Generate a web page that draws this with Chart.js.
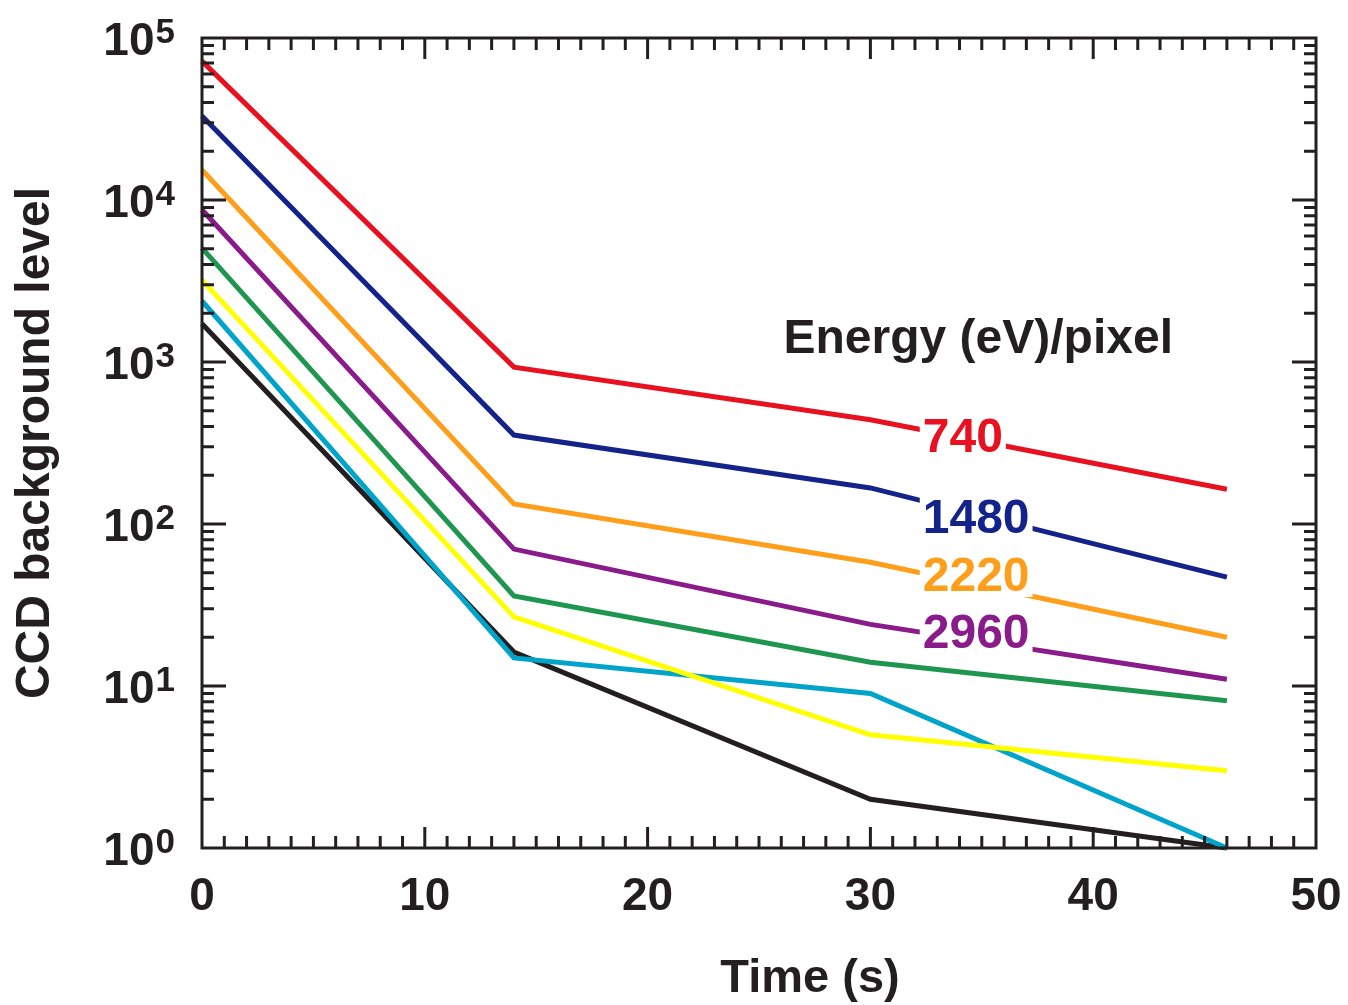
<!DOCTYPE html>
<html>
<head>
<meta charset="utf-8">
<title>CCD background level</title>
<script src="https://cdn.jsdelivr.net/npm/chart.js@4.4.1/dist/chart.umd.min.js"></script>
<style>
  html, body { margin: 0; padding: 0; background: #fff; }
  canvas { display: block; }
</style>
</head>
<body>
<canvas id="ccd-chart" width="1348" height="1005"></canvas>
<script>
// data
const times = [0, 14, 30, 46];
const seriesNames = ['740', '1480', '2220', '2960', 's5', 's6', 's7', 's8'];
const red    = [72000, 930, 440, 164];
const navy   = [33000, 354, 167, 47];
const orange = [15300, 133, 58, 20];
const purple = [8700, 70, 24, 11];
const green  = [5050, 36, 14, 8.1];
const yellow = [3200, 26.7, 5.0, 3.0];
const cyan   = [2380, 14.9, 9.0, 1.0];
const black  = [1720, 16.2, 2.0, 1.0];
const colors = ['#e8111f', '#13238a', '#ff9e1b', '#891b8a', '#1e9650', '#ffff00', '#00a3c9', '#231f20'];

// energy labels drawn on the lines (x, y at text baseline)
const labelTexts = ['740', '1480', '2220', '2960'];
const labelX = 32.35;
const labelY = [278, 88, 38.6, 17.2];
const legendTitle = 'Energy (eV)/pixel';
const legendX = 26.1;
const legendY = 1140;

const decades = [0, 1, 2, 3, 4, 5];

const FONT = '"Liberation Sans", Arial, Helvetica, sans-serif';
const INK = '#231f20';

const allSeries = [red, navy, orange, purple, green, yellow, cyan, black];

const datasets = allSeries.map((vals, i) => ({
    label: seriesNames[i],
    data: times.map((t, j) => ({ x: t, y: vals[j] })),
    borderColor: colors[i],
    backgroundColor: colors[i],
    borderWidth: 5,
    pointRadius: 0,
    tension: 0,
    clip: false
}));

// frame, inside ticks, y labels with superscripts, on-line labels
const decorPlugin = {
    id: 'decor',
    afterDatasetsDraw(chart) {
        const ctx = chart.ctx;
        const xs = chart.scales.x;
        const ys = chart.scales.y;
        const a = chart.chartArea;

        ctx.save();
        ctx.strokeStyle = INK;
        ctx.lineWidth = 3;
        ctx.lineCap = 'butt';

        // x ticks top and bottom
        for (let v = 1; v < 50; v++) {
            const px = xs.getPixelForValue(v);
            const len = (v % 10 === 0) ? 21 : 12;
            ctx.beginPath();
            ctx.moveTo(px, a.bottom);
            ctx.lineTo(px, a.bottom - len);
            ctx.moveTo(px, a.top);
            ctx.lineTo(px, a.top + len);
            ctx.stroke();
        }

        // y ticks left and right
        for (let e = 0; e < 5; e++) {
            for (let m = 1; m <= 9; m++) {
                if (e === 0 && m === 1) continue;
                const py = ys.getPixelForValue(m * Math.pow(10, e));
                const len = (m === 1) ? 24 : 12;
                ctx.beginPath();
                ctx.moveTo(a.left, py);
                ctx.lineTo(a.left + len, py);
                ctx.moveTo(a.right, py);
                ctx.lineTo(a.right - len, py);
                ctx.stroke();
            }
        }

        // frame
        ctx.strokeRect(a.left, a.top, a.right - a.left, a.bottom - a.top);

        // y tick labels: 10^n
        ctx.fillStyle = INK;
        ctx.textBaseline = 'alphabetic';
        decades.forEach(e => {
            const py = ys.getPixelForValue(Math.pow(10, e));
            ctx.font = 'bold 35px ' + FONT;
            const sup = String(e);
            const supW = ctx.measureText(sup).width;
            ctx.textAlign = 'right';
            ctx.fillText(sup, 175, py + 5);
            ctx.font = 'bold 46px ' + FONT;
            ctx.fillText('10', 175 - supW - 1, py + 17);
        });

        // x axis title
        ctx.textAlign = 'center';
        ctx.font = 'bold 47px ' + FONT;
        ctx.fillText('Time (s)', 810, 992);

        // legend title
        ctx.textAlign = 'left';
        ctx.font = 'bold 48px ' + FONT;
        ctx.fillText(legendTitle, xs.getPixelForValue(legendX), ys.getPixelForValue(legendY));

        // labels sitting on the lines with a white gap
        ctx.font = 'bold 48px ' + FONT;
        labelTexts.forEach((txt, i) => {
            const px = xs.getPixelForValue(labelX);
            const py = ys.getPixelForValue(labelY[i]);
            const w = ctx.measureText(txt).width;
            ctx.fillStyle = '#fff';
            ctx.fillRect(px - 3, py - 40, w + 6, 46);
            ctx.fillStyle = colors[i];
            ctx.fillText(txt, px, py);
        });

        ctx.restore();
    }
};

const ctx = document.getElementById('ccd-chart').getContext('2d');
new Chart(ctx, {
    type: 'line',
    data: { datasets: datasets },
    options: {
        responsive: false,
        animation: false,
        layout: { padding: { left: 12, top: 38, right: 32, bottom: 2 } },
        plugins: {
            legend: { display: false },
            tooltip: { enabled: false }
        },
        scales: {
            x: {
                type: 'linear',
                min: 0,
                max: 50,
                grid: { display: false },
                border: { display: false },
                ticks: {
                    stepSize: 10,
                    color: INK,
                    padding: 14,
                    maxRotation: 0,
                    font: { family: FONT, size: 46, weight: 'bold' }
                },
                afterFit(scale) {
                    scale.height = 155;
                    scale.paddingLeft = 0;
                    scale.paddingRight = 0;
                }
            },
            y: {
                type: 'logarithmic',
                min: 1,
                max: 100000,
                grid: { display: false },
                border: { display: false },
                ticks: { display: false },
                title: {
                    display: true,
                    text: 'CCD background level',
                    color: INK,
                    padding: { top: 0, bottom: 0 },
                    font: { family: FONT, size: 48, weight: 'bold', lineHeight: 1 }
                },
                afterFit(scale) { scale.width = 190; }
            }
        }
    },
    plugins: [decorPlugin]
});
</script>
</body>
</html>
